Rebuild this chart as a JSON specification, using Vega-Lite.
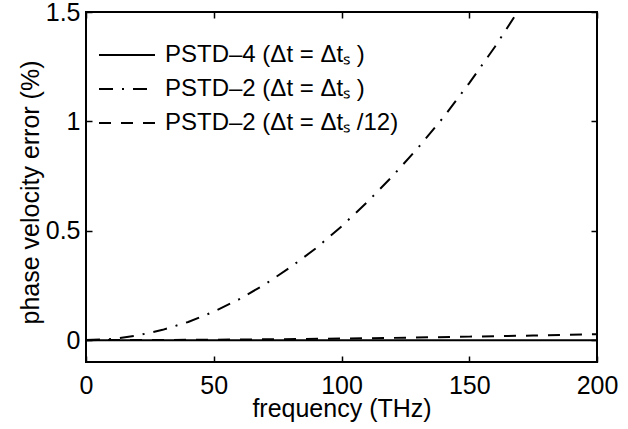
{
  "$schema": "https://vega.github.io/schema/vega-lite/v6.json",
  "width": 511,
  "height": 350,
  "autosize": "none",
  "padding": {"left": 86, "top": 12, "right": 31, "bottom": 67},
  "background": "white",
  "config": {
    "view": {"stroke": "black", "strokeWidth": 2},
    "font": "Liberation Sans",
    "axis": {
      "grid": false,
      "domain": false,
      "tickColor": "black",
      "tickWidth": 1.5,
      "tickSize": 6,
      "offset": -6,
      "labelFont": "Liberation Sans",
      "labelFontSize": 25,
      "labelColor": "black",
      "titleFont": "Liberation Sans",
      "titleFontSize": 25,
      "titleFontWeight": "normal",
      "titleColor": "black"
    },
    "legend": {
      "labelFont": "Liberation Sans",
      "labelFontSize": 24,
      "labelColor": "black"
    }
  },
  "data": {
    "values": [
      {"series": "PSTD–4 (Δt = Δtₛ )", "f": 0, "err": 0},
      {"series": "PSTD–4 (Δt = Δtₛ )", "f": 50, "err": 0},
      {"series": "PSTD–4 (Δt = Δtₛ )", "f": 100, "err": 0},
      {"series": "PSTD–4 (Δt = Δtₛ )", "f": 150, "err": 0},
      {"series": "PSTD–4 (Δt = Δtₛ )", "f": 200, "err": 0},
      {"series": "PSTD–2 (Δt = Δtₛ )", "f": 0, "err": 0},
      {"series": "PSTD–2 (Δt = Δtₛ )", "f": 10, "err": 0.005},
      {"series": "PSTD–2 (Δt = Δtₛ )", "f": 20, "err": 0.021},
      {"series": "PSTD–2 (Δt = Δtₛ )", "f": 30, "err": 0.047},
      {"series": "PSTD–2 (Δt = Δtₛ )", "f": 40, "err": 0.083},
      {"series": "PSTD–2 (Δt = Δtₛ )", "f": 50, "err": 0.13},
      {"series": "PSTD–2 (Δt = Δtₛ )", "f": 60, "err": 0.187},
      {"series": "PSTD–2 (Δt = Δtₛ )", "f": 70, "err": 0.255},
      {"series": "PSTD–2 (Δt = Δtₛ )", "f": 80, "err": 0.333},
      {"series": "PSTD–2 (Δt = Δtₛ )", "f": 90, "err": 0.42},
      {"series": "PSTD–2 (Δt = Δtₛ )", "f": 100, "err": 0.52},
      {"series": "PSTD–2 (Δt = Δtₛ )", "f": 110, "err": 0.63},
      {"series": "PSTD–2 (Δt = Δtₛ )", "f": 120, "err": 0.75},
      {"series": "PSTD–2 (Δt = Δtₛ )", "f": 130, "err": 0.88},
      {"series": "PSTD–2 (Δt = Δtₛ )", "f": 140, "err": 1.02},
      {"series": "PSTD–2 (Δt = Δtₛ )", "f": 150, "err": 1.175},
      {"series": "PSTD–2 (Δt = Δtₛ )", "f": 160, "err": 1.34},
      {"series": "PSTD–2 (Δt = Δtₛ )", "f": 170, "err": 1.52},
      {"series": "PSTD–2 (Δt = Δtₛ /12)", "f": 0, "err": 0},
      {"series": "PSTD–2 (Δt = Δtₛ /12)", "f": 25, "err": 0.0005},
      {"series": "PSTD–2 (Δt = Δtₛ /12)", "f": 50, "err": 0.002},
      {"series": "PSTD–2 (Δt = Δtₛ /12)", "f": 75, "err": 0.004},
      {"series": "PSTD–2 (Δt = Δtₛ /12)", "f": 100, "err": 0.007},
      {"series": "PSTD–2 (Δt = Δtₛ /12)", "f": 125, "err": 0.011},
      {"series": "PSTD–2 (Δt = Δtₛ /12)", "f": 150, "err": 0.016},
      {"series": "PSTD–2 (Δt = Δtₛ /12)", "f": 175, "err": 0.021},
      {"series": "PSTD–2 (Δt = Δtₛ /12)", "f": 200, "err": 0.027}
    ]
  },
  "layer": [
    {
      "mark": {"type": "line", "color": "black", "strokeWidth": 2, "clip": true},
      "encoding": {
        "x": {
          "field": "f", "type": "quantitative",
          "scale": {"domain": [0, 200], "nice": false, "zero": false},
          "axis": {
            "orient": "bottom",
            "values": [0, 50, 100, 150, 200],
            "format": "d",
            "title": "frequency (THz)",
            "labelPadding": 11,
            "labelFlush": false,
            "titleBaseline": "alphabetic",
            "titleY": 60
          }
        },
        "y": {
          "field": "err", "type": "quantitative",
          "scale": {"domain": [-0.1, 1.5], "nice": false, "zero": false},
          "axis": {
            "orient": "left",
            "values": [0, 0.5, 1, 1.5],
            "format": "~g",
            "title": "phase velocity error (%)",
            "labelPadding": 6,
            "labelFlush": false,
            "titleBaseline": "alphabetic",
            "titleX": -54,
            "titleY": 180
          }
        },
        "strokeDash": {
          "field": "series", "type": "nominal",
          "scale": {
            "domain": ["PSTD–4 (Δt = Δtₛ )", "PSTD–2 (Δt = Δtₛ )", "PSTD–2 (Δt = Δtₛ /12)"],
            "range": [[1, 0], [14, 9, 2, 9], [12, 10]]
          },
          "legend": {
            "title": null,
            "orient": "none",
            "legendX": 26,
            "legendY": 28,
            "padding": 0,
            "symbolType": "M-2,0H2",
            "symbolSize": 784,
            "symbolStrokeWidth": 2,
            "symbolStrokeColor": "black",
            "rowPadding": 7,
            "labelOffset": 23,
            "labelLimit": 0
          }
        }
      }
    },
    {
      "mark": {"type": "line", "opacity": 0},
      "encoding": {
        "x": {
          "field": "f", "type": "quantitative",
          "axis": {"orient": "top", "values": [0, 50, 100, 150, 200], "labels": false, "title": null}
        },
        "y": {
          "field": "err", "type": "quantitative",
          "axis": {"orient": "right", "values": [0, 0.5, 1, 1.5], "labels": false, "title": null}
        }
      }
    }
  ],
  "resolve": {"axis": {"x": "independent", "y": "independent"}}
}
